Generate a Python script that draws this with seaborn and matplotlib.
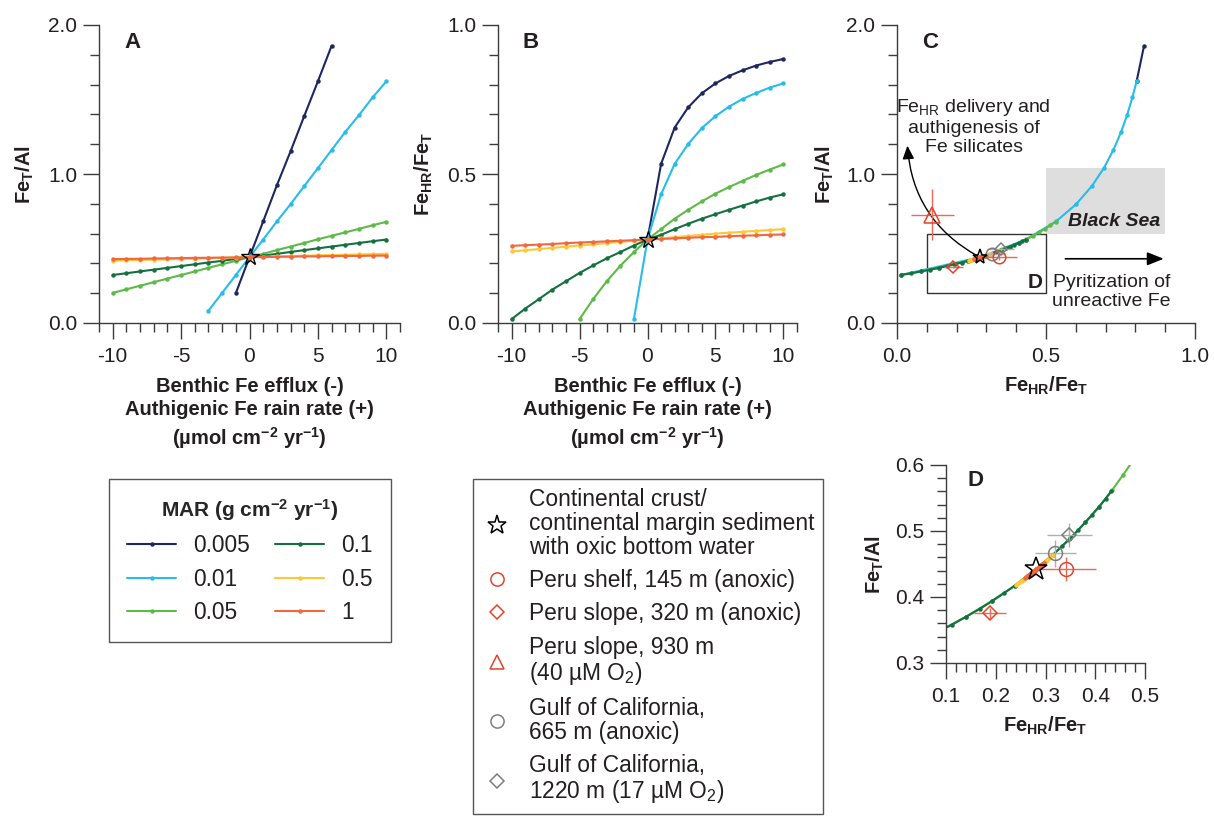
import pandas as pd
import seaborn as sns
import matplotlib.pyplot as plt
from matplotlib.lines import Line2D
from matplotlib.patches import Rectangle
from matplotlib.ticker import MultipleLocator, FormatStrFormatter

sns.set_style("ticks")
plt.rcParams["font.family"] = ["Liberation Sans", "DejaVu Sans"]
plt.rcParams["axes.unicode_minus"] = False
plt.rcParams["mathtext.default"] = "regular"

# -------- data --------
mar_labels = ["0.005", "0.01", "0.05", "0.1", "0.5", "1"]
mar_colors = ["#1d2760", "#27bce9", "#5cba47", "#13703f", "#fdc735", "#f1673f"]

flux_all = [-10, -9, -8, -7, -6, -5, -4, -3, -2, -1, 0, 1, 2, 3, 4, 5, 6, 7, 8, 9, 10]

# panel A: Fe_T/Al vs benthic flux
a_x_0005 = [-1, 0, 1, 2, 3, 4, 5, 6]
a_y_0005 = [0.200, 0.442, 0.682, 0.924, 1.152, 1.389, 1.622, 1.860]
a_x_001 = [-3, -2, -1, 0, 1, 2, 3, 4, 5, 6, 7, 8, 9, 10]
a_y_001 = [0.082, 0.202, 0.322, 0.442, 0.560, 0.682, 0.797, 0.919, 1.039, 1.161,
           1.282, 1.395, 1.514, 1.622]
a_y_005 = [0.202, 0.226, 0.250, 0.274, 0.298, 0.322, 0.346, 0.370, 0.394, 0.417, 0.442,
           0.464, 0.489, 0.513, 0.537, 0.562, 0.585, 0.608, 0.632, 0.656, 0.679]
a_y_01 = [0.322, 0.334, 0.346, 0.358, 0.370, 0.382, 0.394, 0.406, 0.417, 0.430, 0.442,
          0.452, 0.464, 0.477, 0.489, 0.501, 0.513, 0.525, 0.537, 0.549, 0.560]
a_y_05 = [0.418, 0.421, 0.423, 0.425, 0.427, 0.430, 0.432, 0.434, 0.437, 0.439, 0.442,
          0.444, 0.447, 0.449, 0.452, 0.454, 0.456, 0.458, 0.460, 0.462, 0.464]
a_y_1 = [0.429, 0.430, 0.431, 0.433, 0.434, 0.436, 0.437, 0.438, 0.439, 0.440, 0.442,
         0.443, 0.444, 0.445, 0.447, 0.447, 0.449, 0.450, 0.450, 0.452, 0.452]

# panel B: Fe_HR/Fe_T vs benthic flux
b_x_0005 = [0, 1, 2, 3, 4, 5, 6, 7, 8, 9, 10]
b_y_0005 = [0.280, 0.534, 0.656, 0.724, 0.771, 0.804, 0.829, 0.848, 0.864, 0.876, 0.886]
b_x_001 = [-1, 0, 1, 2, 3, 4, 5, 6, 7, 8, 9, 10]
b_y_001 = [0.013, 0.280, 0.432, 0.534, 0.601, 0.654, 0.694, 0.726, 0.752, 0.772, 0.790, 0.804]
b_x_005 = [-5, -4, -3, -2, -1, 0, 1, 2, 3, 4, 5, 6, 7, 8, 9, 10]
b_y_005 = [0.013, 0.080, 0.140, 0.192, 0.238, 0.280, 0.315, 0.350, 0.380, 0.408, 0.434,
           0.456, 0.477, 0.497, 0.515, 0.532]
b_y_01 = [0.013, 0.048, 0.080, 0.112, 0.140, 0.168, 0.193, 0.217, 0.238, 0.260, 0.280,
          0.296, 0.315, 0.333, 0.350, 0.365, 0.380, 0.394, 0.408, 0.421, 0.432]
b_y_05 = [0.240, 0.244, 0.248, 0.252, 0.256, 0.260, 0.264, 0.268, 0.272, 0.276, 0.280,
          0.284, 0.288, 0.292, 0.296, 0.300, 0.303, 0.306, 0.309, 0.312, 0.315]
b_y_1 = [0.259, 0.261, 0.263, 0.265, 0.268, 0.270, 0.272, 0.274, 0.276, 0.278, 0.280,
         0.282, 0.284, 0.286, 0.288, 0.289, 0.291, 0.293, 0.294, 0.296, 0.297]

# lowest flux of each MAR run that shows in panel C (navy is hidden under cyan below that)
c_first_flux = {"0.005": 5, "0.01": -1, "0.05": -5, "0.1": -10, "0.5": -10, "1": -10}
d_series = ["0.05", "0.1", "0.5", "1"]

# observations (Fe_HR/Fe_T, Fe_T/Al)
obs_labels = ["Continental crust/\ncontinental margin sediment\nwith oxic bottom water",
              "Peru shelf, 145 m (anoxic)",
              "Peru slope, 320 m (anoxic)",
              "Peru slope, 930 m\n(40 µM O$_2$)",
              "Gulf of California,\n665 m (anoxic)",
              "Gulf of California,\n1220 m (17 µM O$_2$)"]
obs_x = [0.280, 0.342, 0.189, 0.118, 0.320, 0.348]
obs_y = [0.442, 0.443, 0.376, 0.726, 0.466, 0.494]
obs_xerr = [0.0, 0.060, 0.032, 0.072, 0.042, 0.045]
obs_yerr = [0.0, 0.018, 0.008, 0.170, 0.020, 0.018]
obs_markers = ["*", "o", "D", "^", "o", "D"]
obs_colors = ["black", "#e2432b", "#e2432b", "#e2432b", "#7d7d7d", "#7d7d7d"]
err_colors = ["black", "#ea6a55", "#ea6a55", "#ea6a55", "#b0b0b0", "#b0b0b0"]

star_flux = 0
star_a = 0.442
star_b = 0.280


def long_df(xs, ys):
    parts = [pd.DataFrame({"flux": x, "val": y, "MAR": lab})
             for lab, x, y in zip(mar_labels, xs, ys)]
    return pd.concat(parts, ignore_index=True)


dfA = long_df([a_x_0005, a_x_001, flux_all, flux_all, flux_all, flux_all],
              [a_y_0005, a_y_001, a_y_005, a_y_01, a_y_05, a_y_1])
dfB = long_df([b_x_0005, b_x_001, b_x_005, flux_all, flux_all, flux_all],
              [b_y_0005, b_y_001, b_y_005, b_y_01, b_y_05, b_y_1])
dfC = dfA.merge(dfB, on=["MAR", "flux"], suffixes=("_a", "_b"))
dfC = dfC[dfC["flux"] >= dfC["MAR"].map(c_first_flux)]
dfD = dfC[dfC["MAR"].isin(d_series)]

W, H = 1214, 818
fig = plt.figure(figsize=(W / 100, H / 100), dpi=100)
axA = fig.add_axes([99 / W, 1 - 323 / H, 301 / W, 298 / H])
axB = fig.add_axes([498 / W, 1 - 323 / H, 299 / W, 298 / H])
axC = fig.add_axes([897 / W, 1 - 323 / H, 298 / W, 298 / H])
axD = fig.add_axes([946 / W, 1 - 663 / H, 199 / W, 198 / H])

ink = "#231f20"
line_kw = dict(hue="MAR", hue_order=mar_labels, palette=mar_colors, marker="o",
               markersize=3.2, markeredgewidth=0, linewidth=1.5, estimator=None,
               sort=False, legend=False)

sns.lineplot(data=dfA, x="flux", y="val", ax=axA, **line_kw)
sns.lineplot(data=dfB, x="flux", y="val", ax=axB, **line_kw)
sns.lineplot(data=dfC, x="val_b", y="val_a", ax=axC, **line_kw)
sns.lineplot(data=dfD, x="val_b", y="val_a", ax=axD, **line_kw)

star_kw = dict(ls="none", marker="*", mfc="none", mec="black", mew=1.0, zorder=6)
axA.plot(star_flux, star_a, ms=13, **star_kw)
axB.plot(star_flux, star_b, ms=13, **star_kw)

# observations in C and D (the 930 m site lies outside D)
sizes_C = [11, 9, 6.5, 11, 9, 6.5]
sizes_D = [17, 10, 7, 0, 10, 7]
for ax, sizes in ((axC, sizes_C), (axD, sizes_D)):
    for i in range(len(obs_x)):
        if sizes[i] == 0:
            continue
        if obs_xerr[i] > 0:
            ax.errorbar(obs_x[i], obs_y[i], xerr=obs_xerr[i], yerr=obs_yerr[i], fmt="none",
                        ecolor=err_colors[i], elinewidth=1, capsize=0, zorder=4)
        ax.plot(obs_x[i], obs_y[i], ls="none", marker=obs_markers[i], ms=sizes[i],
                mfc="none", mec=obs_colors[i], mew=1.1, zorder=6 if i == 0 else 5)

# panel C decorations
axC.add_patch(Rectangle((0.5, 0.6), 0.4, 0.44, facecolor="#dedede", edgecolor="none", zorder=0))
axC.text(0.885, 0.68, "Black Sea", ha="right", va="center", fontsize=14,
         fontweight="bold", fontstyle="italic", color=ink)
axC.add_patch(Rectangle((0.1, 0.2), 0.4, 0.4, fill=False, edgecolor="#333333", lw=1, zorder=1))
axC.text(0.465, 0.27, "D", ha="center", va="center", fontsize=15, fontweight="bold", color=ink)
axC.annotate("", xy=(0.035, 1.19), xytext=(0.27, 0.45),
             arrowprops=dict(arrowstyle="-|>,head_length=0.8,head_width=0.35",
                             connectionstyle="arc3,rad=-0.27", color="black", lw=1,
                             shrinkA=0, shrinkB=0))
axC.text(0.257, 1.32, "Fe$_{HR}$ delivery and\nauthigenesis of\nFe silicates", ha="center",
         va="center", fontsize=14, color=ink, linespacing=1.15)
axC.annotate("", xy=(0.895, 0.431), xytext=(0.565, 0.431),
             arrowprops=dict(arrowstyle="-|>,head_length=1.0,head_width=0.4", color="black",
                             lw=1.2, shrinkA=0, shrinkB=0))
axC.text(0.72, 0.21, "Pyritization of\nunreactive Fe", ha="center", va="center",
         fontsize=14, color=ink, linespacing=1.15)


def style(ax, xlim, ylim, xmaj, xmin, ymaj, ymin, xfmt, yfmt):
    ax.set_xlim(*xlim)
    ax.set_ylim(*ylim)
    ax.xaxis.set_major_locator(MultipleLocator(xmaj))
    ax.xaxis.set_minor_locator(MultipleLocator(xmin))
    ax.yaxis.set_major_locator(MultipleLocator(ymaj))
    ax.yaxis.set_minor_locator(MultipleLocator(ymin))
    ax.xaxis.set_major_formatter(FormatStrFormatter(xfmt))
    ax.yaxis.set_major_formatter(FormatStrFormatter(yfmt))
    ax.tick_params(which="major", length=11.5, width=1, direction="out", labelsize=15,
                   colors="#3c3c3c", labelcolor=ink)
    ax.tick_params(axis="x", which="major", pad=6)
    ax.tick_params(axis="y", which="major", pad=4)
    ax.tick_params(which="minor", length=6.5, width=1, direction="out", colors="#3c3c3c")
    sns.despine(ax=ax)
    for s in ("left", "bottom"):
        ax.spines[s].set_color("#3c3c3c")
        ax.spines[s].set_linewidth(1)


style(axA, (-11, 11), (0, 2), 5, 1, 1, 0.2, "%d", "%.1f")
style(axB, (-11, 11), (0, 1), 5, 1, 0.5, 0.1, "%d", "%.1f")
style(axC, (0, 1), (0, 2), 0.5, 0.1, 1, 0.2, "%.1f", "%.1f")
style(axD, (0.1, 0.5), (0.3, 0.6), 0.1, 0.02, 0.1, 0.02, "%.1f", "%.1f")

lab_kw = dict(fontsize=14.5, fontweight="bold", color=ink)
flux_label = "Benthic Fe efflux (-)\nAuthigenic Fe rain rate (+)\n(µmol cm$^{-2}$ yr$^{-1}$)"
for ax in (axA, axB):
    ax.set_xlabel(flux_label, linespacing=1.3, **lab_kw)
    ax.xaxis.set_label_coords(0.5, -0.18)
axC.set_xlabel("Fe$_{HR}$/Fe$_T$", **lab_kw)
axC.xaxis.set_label_coords(0.5, -0.175)
axD.set_xlabel("Fe$_{HR}$/Fe$_T$", **lab_kw)
axD.xaxis.set_label_coords(0.5, -0.26)

axA.set_ylabel("Fe$_T$/Al", **lab_kw)
axA.yaxis.set_label_coords(-0.21, 0.5)
axB.set_ylabel("Fe$_{HR}$/Fe$_T$", **lab_kw)
axB.yaxis.set_label_coords(-0.21, 0.5)
axC.set_ylabel("Fe$_T$/Al", **lab_kw)
axC.yaxis.set_label_coords(-0.205, 0.5)
axD.set_ylabel("Fe$_T$/Al", **lab_kw)
axD.yaxis.set_label_coords(-0.30, 0.5)

for ax, letter, pos in ((axA, "A", (0.11, 0.94)), (axB, "B", (0.11, 0.94)),
                        (axC, "C", (0.112, 0.94)), (axD, "D", (0.146, 0.924))):
    ax.text(pos[0], pos[1], letter, transform=ax.transAxes, ha="center", va="center",
            fontsize=16, fontweight="bold", color=ink)

# legends
leg_size = 16.4
mar_handles = [Line2D([], [], color=c, lw=1.5, marker="o", ms=3.2, mew=0) for c in mar_colors]
leg1 = fig.legend(mar_handles, mar_labels, loc="upper left",
                  bbox_to_anchor=(109 / W, 1 - 479 / H), ncol=2, fontsize=leg_size,
                  title="MAR (g cm$^{-2}$ yr$^{-1}$)",
                  title_fontproperties={"weight": "bold", "size": 15},
                  frameon=True, fancybox=False, edgecolor="#555555", framealpha=1,
                  borderpad=0.8, handlelength=2.15, handletextpad=0.75, columnspacing=1.1,
                  labelspacing=0.47, borderaxespad=0)
leg1.get_frame().set_linewidth(1)

obs_handles = [Line2D([], [], ls="none", marker=m, ms=s, mfc="none", mec=c, mew=1.1)
               for m, s, c in zip(obs_markers, [14, 9.5, 7, 10, 9.5, 7], obs_colors)]
leg2 = fig.legend(obs_handles, obs_labels, loc="upper left",
                  bbox_to_anchor=(473 / W, 1 - 479 / H), fontsize=leg_size, frameon=True,
                  fancybox=False, edgecolor="#555555", framealpha=1, borderpad=0.4,
                  handlelength=1.3, handletextpad=0.75, labelspacing=0.45, borderaxespad=0)
leg2.get_frame().set_linewidth(1)
for t in leg2.get_texts():
    t.set_linespacing(1.05)
for t in leg1.get_texts() + leg2.get_texts():
    t.set_color(ink)

fig.savefig("out.png", dpi=100)
